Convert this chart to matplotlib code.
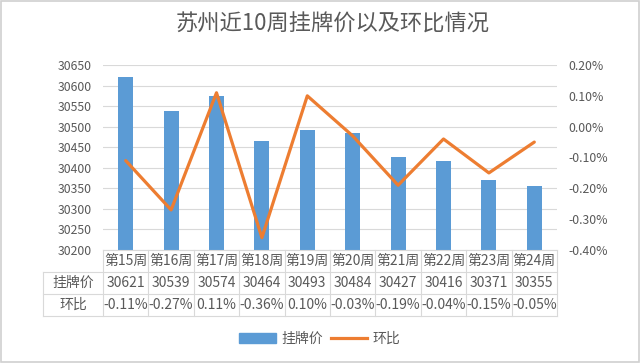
import matplotlib
matplotlib.use("Agg")
import matplotlib.pyplot as plt
from matplotlib.lines import Line2D
from matplotlib.patches import Rectangle

plt.rcParams['font.family'] = ['Noto Sans CJK SC', 'DejaVu Sans']

weeks = ["第15周", "第16周", "第17周", "第18周", "第19周", "第20周", "第21周", "第22周", "第23周", "第24周"]
prices = [30621, 30539, 30574, 30464, 30493, 30484, 30427, 30416, 30371, 30355]
changes = [-0.11, -0.27, 0.11, -0.36, 0.10, -0.03, -0.19, -0.04, -0.15, -0.05]
title = "苏州近10周挂牌价以及环比情况"
bar_name = "挂牌价"
line_name = "环比"

W, H = 640, 363
BLUE = "#5B9BD5"
ORANGE = "#ED7D31"
GRID = "#D9D9D9"
TXT = "#595959"

fig = plt.figure(figsize=(W / 100, H / 100), dpi=100)

def fx(x):
    return x / W

def fy(y):
    return 1 - y / H

L, R, T, B = 103, 557, 65, 250
ax = fig.add_axes([fx(L), fy(B), fx(R - L), fy(T) - fy(B)])
n = len(weeks)
xs = list(range(n))
ax.bar(xs, prices, width=0.33, color=BLUE, zorder=2)
ax.set_xlim(-0.5, n - 0.5)
ax.set_ylim(30200, 30650)
ax.set_yticks(range(30200, 30651, 50))
ax.yaxis.grid(True, color=GRID, linewidth=0.8, zorder=0)
ax.set_xticks([])
for s in ax.spines.values():
    s.set_visible(False)
ax.tick_params(axis='y', length=0, labelsize=8.8, labelcolor=TXT, pad=8)

ax2 = ax.twinx()
ax2.plot(xs, changes, color=ORANGE, linewidth=2.3, zorder=3, solid_capstyle='round')
ax2.set_ylim(-0.40, 0.20)
ax2.set_yticks([-0.4, -0.3, -0.2, -0.1, 0.0, 0.1, 0.2])
ax2.set_yticklabels([f"{v:.2f}%" for v in [-0.4, -0.3, -0.2, -0.1, 0.0, 0.1, 0.2]])
for s in ax2.spines.values():
    s.set_visible(False)
ax2.tick_params(axis='y', length=0, labelsize=8.8, labelcolor=TXT, pad=8)

# table
cw = (R - L) / n
rows_y = [250, 272, 294, 316]
lx = 43
lw = 0.8
def hline(x0, x1, y):
    fig.add_artist(Line2D([fx(x0), fx(x1)], [fy(y), fy(y)], color=GRID, linewidth=lw))
def vline(x, y0, y1):
    fig.add_artist(Line2D([fx(x), fx(x)], [fy(y0), fy(y1)], color=GRID, linewidth=lw))

hline(L, R, rows_y[0])
for y in rows_y[1:]:
    hline(lx, R, y)
vline(lx, rows_y[1], rows_y[3])
for i in range(n + 1):
    vline(L + i * cw, rows_y[0], rows_y[3])

TFS = 10
for i in range(n):
    cx = fx(L + (i + 0.5) * cw)
    fig.text(cx, fy((rows_y[0] + rows_y[1]) / 2), weeks[i], ha='center', va='center', fontsize=TFS, color=TXT)
    fig.text(cx, fy((rows_y[1] + rows_y[2]) / 2), str(prices[i]), ha='center', va='center', fontsize=TFS, color=TXT)
    fig.text(cx, fy((rows_y[2] + rows_y[3]) / 2), f"{changes[i]:.2f}%", ha='center', va='center', fontsize=TFS, color=TXT)
fig.text(fx((lx + L) / 2), fy((rows_y[1] + rows_y[2]) / 2), bar_name, ha='center', va='center', fontsize=TFS, color=TXT)
fig.text(fx((lx + L) / 2), fy((rows_y[2] + rows_y[3]) / 2), line_name, ha='center', va='center', fontsize=TFS, color=TXT)

# title
fig.text(fx(333), fy(24), title, ha='center', va='center', fontsize=16, color=TXT)

# legend
handles = [Rectangle((0, 0), 1, 1, color=BLUE), Line2D([0], [0], color=ORANGE, linewidth=2.3)]
fig.legend(handles, [bar_name, line_name], loc='center', bbox_to_anchor=(fx(320), fy(339)),
           ncol=2, frameon=False, fontsize=10, labelcolor=TXT, handlelength=2.6, handleheight=0.8,
           columnspacing=0.6, handletextpad=0.4)

# outer border
fig.add_artist(Rectangle((0.002, 0.003), 0.996, 0.994, fill=False, edgecolor="#D0D0D0", linewidth=1.2))

fig.savefig("out.png", dpi=100)
